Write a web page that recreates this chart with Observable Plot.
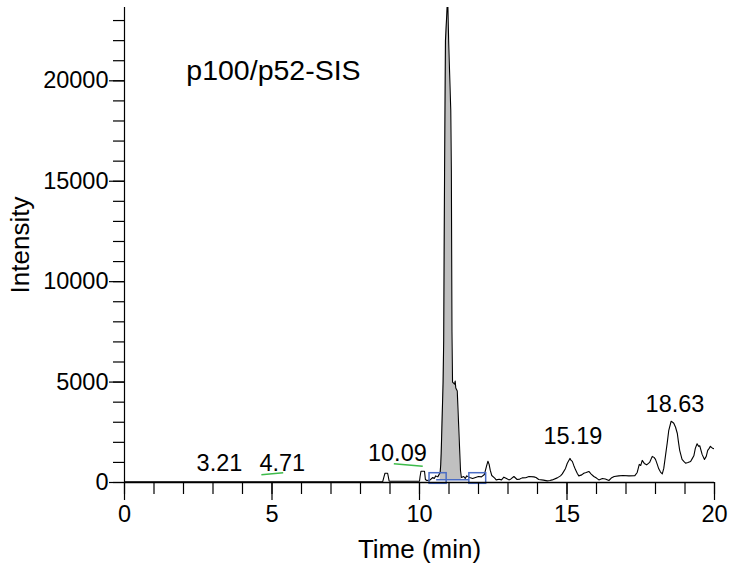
<!DOCTYPE html>
<html>
<head>
<meta charset="utf-8">
<script src="https://cdn.jsdelivr.net/npm/d3@7"></script>
<script src="https://cdn.jsdelivr.net/npm/@observablehq/plot@0.6"></script>
<style>
  html, body { margin: 0; padding: 0; background: #fff; }
</style>
</head>
<body>
<div id="chart"></div>
<script>
// ---- data ----
const times = [
  0, 8.75, 8.8, 8.83, 8.92, 8.97, 9.0, 10.0, 10.02, 10.05, 10.17, 10.2, 10.25, 10.35, 10.45, 10.5, 10.55, 10.62,
  10.7, 10.72, 10.735, 10.8, 10.82, 10.85, 10.88, 10.955, 10.99, 11.06, 11.08, 11.1, 11.12, 11.19, 11.21, 11.23,
  11.28, 11.39, 11.42, 11.5, 11.55, 11.6, 11.7, 11.8, 11.9, 12.0, 12.1, 12.2, 12.27, 12.32, 12.36, 12.4, 12.45,
  12.55, 12.6, 12.7, 12.78, 12.86, 12.95, 13.03, 13.1, 13.2, 13.31, 13.4, 13.48, 13.6, 13.71, 13.88, 13.95, 14.04,
  14.2, 14.33, 14.42, 14.5, 14.67, 14.78, 14.84, 14.95, 15.01, 15.1, 15.14, 15.18, 15.23, 15.29, 15.35, 15.4, 15.5,
  15.57, 15.65, 15.74, 15.82, 15.91, 16.0, 16.08, 16.2, 16.3, 16.42, 16.5, 16.6, 16.75, 16.9, 17.1, 17.3, 17.38,
  17.45, 17.5, 17.55, 17.62, 17.7, 17.8, 17.89, 17.95, 18.0, 18.06, 18.11, 18.17, 18.23, 18.28, 18.34, 18.4, 18.45,
  18.53, 18.58, 18.62, 18.68, 18.74, 18.78, 18.82, 18.9, 18.96, 19.02, 19.1, 19.19, 19.25, 19.3, 19.35, 19.41,
  19.46, 19.5, 19.58, 19.66, 19.72, 19.77, 19.82, 19.86, 19.92, 19.98
];
const intensities = [
  30, 30, 300, 460, 460, 80, 60, 60, 300, 560, 560, 150, 100, 120, 250, 200, 330, 280,
  500, 900, 1444, 5000, 7070, 15540, 22000, 24200, 21860, 18520, 15540, 7500, 5000, 4900, 5050, 4700,
  4550, 600, 250, 300, 200, 330, 250, 200, 250, 300, 280, 400, 800, 1060, 900, 600, 350,
  220, 130, 160, 130, 265, 200, 130, 180, 300, 150, 170, 230, 240, 300, 280, 250, 150,
  120, 80, 100, 130, 230, 330, 430, 700, 960, 1200, 1100, 1050, 850, 630, 450, 330, 380,
  460, 500, 550, 420, 300, 220, 130, 200, 170, 100, 220, 300, 330, 350, 330, 340, 500,
  900, 850, 1100, 950, 880, 1000, 1300, 1250, 1150, 900, 680, 520, 430, 700, 1350, 2000, 2600,
  3050, 3000, 2950, 2750, 2440, 2000, 1600, 1150, 1050, 960, 1000, 1050, 1200, 1330, 1700, 1930,
  1800, 1830, 1400, 1150, 1300, 1600, 1700, 1800, 1720, 1680
];

// peak labels (retention times) and where they sit
const peakLabels = ["3.21", "4.71", "10.09", "15.19", "18.63"];
const peakLabelX = [3.22, 5.35, 9.25, 15.2, 18.66];
const peakLabelY = [930, 930, 1470, 2270, 3900];

// green apex markers under labels
const markerX1 = [4.64, 9.13];
const markerX2 = [5.38, 10.11];
const markerY1 = [380, 930];
const markerY2 = [480, 810];

// integrated peak (grey fill) and its boundary boxes
const fillStart = 10.66, fillEnd = 11.45, integrationLevel = 135;
const boxX1 = [10.34, 11.69];
const boxX2 = [10.92, 12.26];
const boxY1 = [-65, -65];
const boxY2 = [463, 463];
const baselineX = [10.58, 11.69];

const title = "p100/p52-SIS";
const xTicksMajor = [0, 5, 10, 15, 20];
const xTicksMinor = d3.range(0, 21, 1);
const yTicksMajor = [0, 5000, 10000, 15000, 20000];
const yTicksMinor = d3.range(0, 24000, 1000);

// ---- build tables ----
const trace = times.map((t, i) => ({t, v: intensities[i]}));
const labels = peakLabels.map((s, i) => ({s, x: peakLabelX[i], y: peakLabelY[i]}));
const markers = markerX1.map((x1, i) => ({x1, x2: markerX2[i], y1: markerY1[i], y2: markerY2[i]}));
const boxes = boxX1.map((x1, i) => ({x1, x2: boxX2[i], y1: boxY1[i], y2: boxY2[i]}));
const fillData = trace.filter(d => d.t >= fillStart && d.t <= fillEnd);

const font = "'Liberation Sans', Arial, Helvetica, sans-serif";

const chart = Plot.plot({
  width: 732,
  height: 567,
  marginLeft: 124,
  marginRight: 18,
  marginTop: 7,
  marginBottom: 85,
  style: {fontFamily: font, fontSize: "23px", color: "#000", background: "#fff"},
  x: {domain: [0, 20]},
  y: {domain: [0, 23650]},
  marks: [
    Plot.areaY(fillData, {x: "t", y1: integrationLevel, y2: "v", fill: "#c0c0c0", clip: true}),
    Plot.line(trace, {x: "t", y: "v", stroke: "#000", strokeWidth: 1.1, clip: true}),
    Plot.rect(boxes, {x1: "x1", x2: "x2", y1: "y1", y2: "y2", stroke: "#4a6cc4", strokeWidth: 1.5, fill: "none"}),
    Plot.ruleY([integrationLevel], {x1: baselineX[0], x2: baselineX[1], stroke: "#4a6cc4", strokeWidth: 1.5}),
    Plot.link(markers, {x1: "x1", y1: "y1", x2: "x2", y2: "y2", stroke: "#3dbb4a", strokeWidth: 1.5}),
    Plot.ruleY([0], {stroke: "#000", strokeWidth: 1.5}),
    Plot.ruleX([0], {stroke: "#000", strokeWidth: 1.2}),
    Plot.axisX({ticks: xTicksMinor, tickSize: 12, tickFormat: () => "", label: null, strokeWidth: 1.2}),
    Plot.axisX({ticks: xTicksMajor, tickSize: 18, tickPadding: 5, label: null, fontSize: 23.5, strokeWidth: 1.2}),
    Plot.axisY({ticks: yTicksMinor, tickSize: 11, tickFormat: () => "", label: null, strokeWidth: 1.2}),
    Plot.axisY({ticks: yTicksMajor, tickSize: 15, tickPadding: 1, tickFormat: d => String(d), label: null, fontSize: 23.5, strokeWidth: 1.2}),
    Plot.text(labels, {x: "x", y: "y", text: "s", fontSize: 23.5, lineAnchor: "middle", textAnchor: "middle", fill: "#000"}),
    Plot.text([title], {x: 5.05, y: 20500, text: d => d, fontSize: 28.5, lineAnchor: "middle", textAnchor: "middle", fill: "#000"}),
    Plot.text(["Time (min)"], {frameAnchor: "bottom", dy: 67, text: d => d, fontSize: 26, lineAnchor: "middle", textAnchor: "middle", fill: "#000"}),
    Plot.text(["Intensity"], {frameAnchor: "left", dx: -104, rotate: -90, text: d => d, fontSize: 26, lineAnchor: "middle", textAnchor: "middle", fill: "#000"})
  ]
});
document.getElementById("chart").appendChild(chart);
</script>
</body>
</html>
